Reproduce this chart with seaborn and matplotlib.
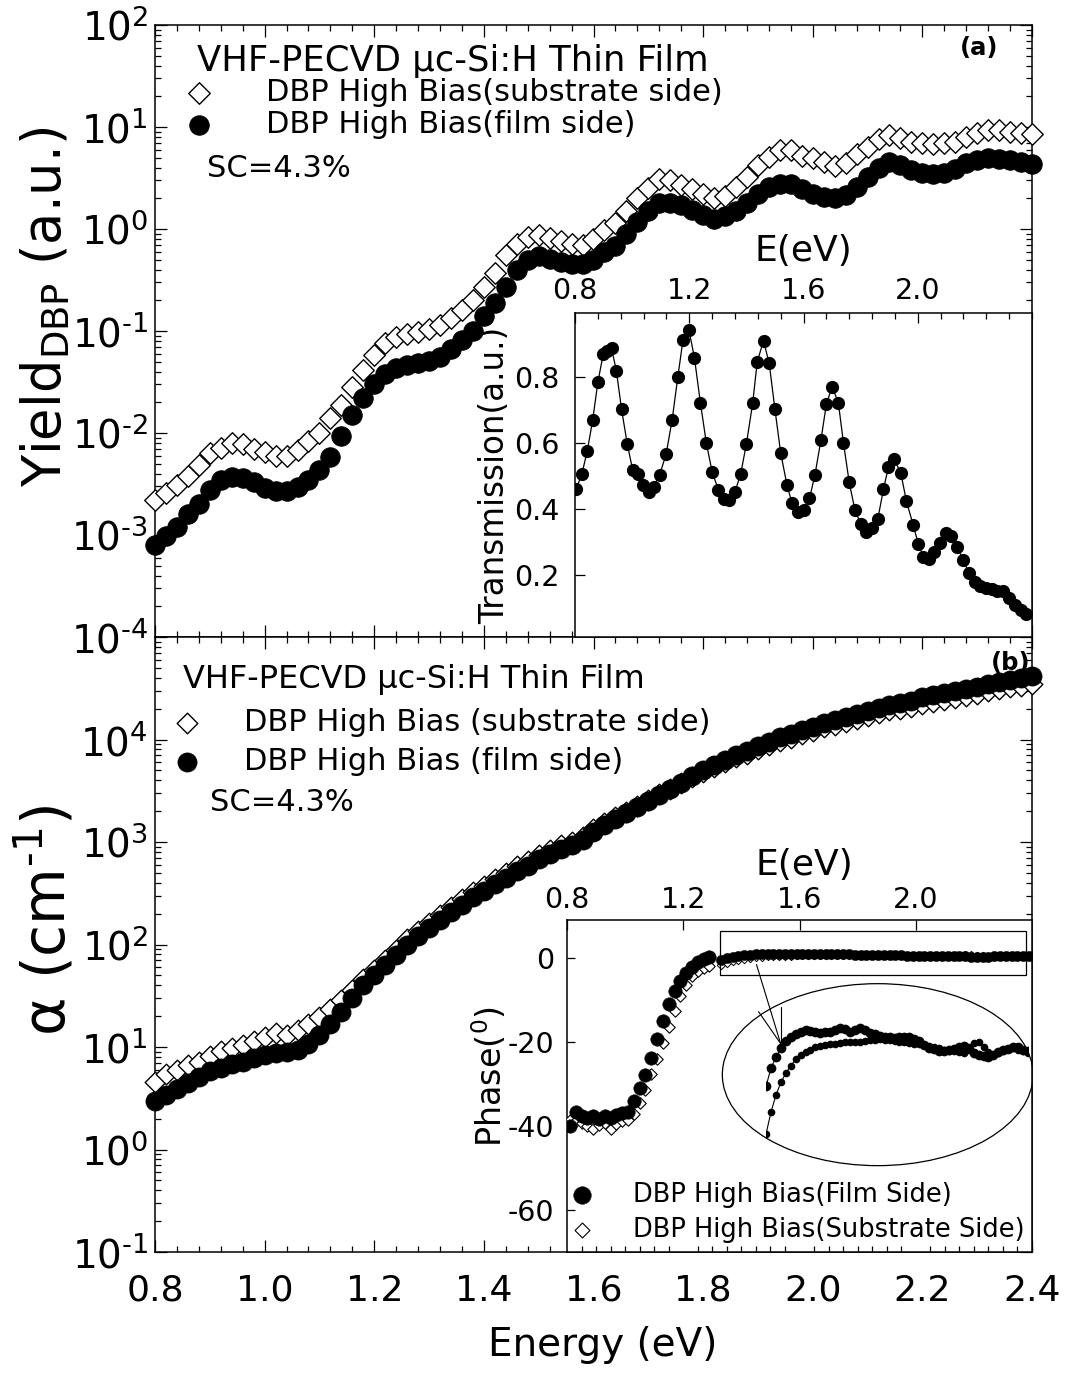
import numpy as np
import matplotlib
matplotlib.use("Agg")
import matplotlib.pyplot as plt
import matplotlib.ticker as mticker
from matplotlib.patches import Ellipse, Rectangle
import seaborn as sns

# energy grid of the two main panels (eV)
energy = np.linspace(0.80, 2.40, 81)

# (a) DBP yield (a.u.)
yield_substrate = [2.2e-3, 2.6e-3, 3.1e-3, 3.8e-3, 4.9e-3, 6.3e-3, 7.2e-3, 7.9e-3, 7.8e-3, 6.9e-3,
                   6.5e-3, 6.0e-3, 6.0e-3, 6.8e-3, 8.3e-3, 1.0e-2, 1.4e-2, 1.9e-2, 2.8e-2, 4.1e-2,
                   5.8e-2, 7.6e-2, 8.7e-2, 9.3e-2, 9.8e-2, 0.105, 0.115, 0.135, 0.16, 0.20,
                   0.27, 0.37, 0.55, 0.72, 0.83, 0.87, 0.81, 0.76, 0.71, 0.69,
                   0.79, 0.98, 1.15, 1.5, 2.0, 2.5, 3.1, 3.0, 2.7, 2.45,
                   2.2, 2.0, 2.1, 2.6, 3.2, 4.2, 5.1, 6.0, 6.0, 5.2,
                   5.0, 4.5, 4.1, 4.4, 5.4, 6.3, 7.6, 8.3, 7.8, 7.2,
                   6.9, 6.8, 6.9, 7.2, 7.9, 8.7, 9.3, 9.3, 8.9, 8.7,
                   8.5]
yield_film = [8.0e-4, 9.8e-4, 1.2e-3, 1.6e-3, 2.0e-3, 2.75e-3, 3.5e-3, 3.7e-3, 3.6e-3, 3.3e-3,
              2.9e-3, 2.7e-3, 2.7e-3, 2.95e-3, 3.5e-3, 4.3e-3, 5.8e-3, 9.3e-3, 1.5e-2, 2.2e-2,
              3.0e-2, 3.8e-2, 4.3e-2, 4.6e-2, 4.9e-2, 5.1e-2, 5.6e-2, 6.6e-2, 8.1e-2, 0.10,
              0.14, 0.19, 0.27, 0.40, 0.50, 0.54, 0.51, 0.48, 0.45, 0.45,
              0.50, 0.59, 0.68, 0.89, 1.17, 1.5, 1.8, 1.8, 1.7, 1.55,
              1.38, 1.26, 1.35, 1.5, 1.8, 2.2, 2.6, 2.75, 2.75, 2.45,
              2.2, 2.05, 2.0, 2.15, 2.6, 3.2, 4.0, 4.5, 4.2, 3.8,
              3.55, 3.45, 3.55, 3.9, 4.4, 4.8, 5.0, 4.9, 4.7, 4.5,
              4.3]

# (a) inset: transmission
trans_e = [0.804, 0.824, 0.843, 0.862, 0.880, 0.899, 0.913, 0.928, 0.945, 0.963,
           0.983, 1.002, 1.020, 1.039, 1.059, 1.076, 1.096, 1.119, 1.140, 1.160,
           1.178, 1.199, 1.218, 1.239, 1.260, 1.280, 1.302, 1.320, 1.340, 1.360,
           1.380, 1.400, 1.422, 1.438, 1.460, 1.480, 1.500, 1.520, 1.542, 1.560,
           1.579, 1.602, 1.621, 1.640, 1.661, 1.680, 1.700, 1.722, 1.740, 1.760,
           1.780, 1.800, 1.820, 1.840, 1.860, 1.880, 1.897, 1.918, 1.941, 1.960,
           1.984, 2.002, 2.020, 2.040, 2.058, 2.078, 2.098, 2.118, 2.139, 2.159,
           2.179, 2.199, 2.219, 2.239, 2.259, 2.279, 2.300, 2.320, 2.340, 2.360,
           2.380]
trans_t = [0.460, 0.506, 0.576, 0.670, 0.784, 0.870, 0.880, 0.887, 0.818, 0.702,
           0.597, 0.518, 0.506, 0.473, 0.452, 0.468, 0.503, 0.566, 0.670, 0.800,
           0.912, 0.942, 0.859, 0.722, 0.599, 0.513, 0.458, 0.429, 0.427, 0.452,
           0.506, 0.597, 0.720, 0.846, 0.910, 0.841, 0.702, 0.571, 0.473, 0.417,
           0.392, 0.397, 0.432, 0.503, 0.609, 0.717, 0.771, 0.722, 0.600, 0.481,
           0.397, 0.355, 0.331, 0.341, 0.369, 0.460, 0.526, 0.550, 0.508, 0.425,
           0.351, 0.294, 0.255, 0.247, 0.271, 0.298, 0.326, 0.318, 0.284, 0.245,
           0.207, 0.180, 0.167, 0.160, 0.157, 0.152, 0.152, 0.129, 0.109, 0.094,
           0.081]

# (b) absorption coefficient (cm^-1)
alpha_substrate = [4.6, 5.4, 6.0, 6.6, 7.2, 8.1, 9.1, 9.8, 10.5, 11.5,
                   12.6, 13.8, 13.2, 14.5, 16.6, 19.5, 23.4, 29, 36, 46,
                   56, 71, 89, 112, 135, 162, 195, 234, 275, 323,
                   371, 436, 501, 580, 650, 740, 830, 925, 1010, 1130,
                   1340, 1530, 1740, 1980, 2260, 2570, 2910, 3310, 3760, 4270,
                   4850, 5400, 6000, 6700, 7300, 8100, 8850, 9700, 10300, 11200,
                   12000, 13100, 13900, 14800, 15800, 16900, 18000, 19200, 20000, 20900,
                   22300, 23200, 24300, 25300, 26400, 27600, 29500, 30800, 32200, 33600,
                   35000]
alpha_film = [3.0, 3.4, 3.9, 4.5, 5.1, 5.8, 6.3, 6.9, 7.2, 7.8,
              8.3, 8.7, 8.9, 9.3, 10.7, 13.2, 16.6, 22, 30, 40,
              50, 63, 79, 100, 120, 145, 174, 209, 245, 288,
              331, 389, 447, 525, 589, 676, 759, 851, 933, 1050,
              1260, 1450, 1660, 1900, 2190, 2510, 2880, 3310, 3800, 4370,
              5010, 5620, 6310, 7080, 7760, 8710, 9550, 10500, 11200, 12300,
              13200, 14500, 15500, 16600, 17800, 19100, 20400, 21900, 22900, 24000,
              25700, 26900, 28200, 29500, 30900, 32400, 34700, 36300, 38000, 39800,
              41700]

# (b) inset: phase (degrees), coarse part and dense part
phase_e_coarse = np.linspace(0.81, 1.29, 25)
phase_film_coarse = [-40.0, -36.8, -37.6, -38.0, -37.6, -38.4, -37.6, -38.2, -37.4, -37.0,
                     -36.6, -34.0, -31.0, -27.8, -23.8, -19.4, -15.0, -11.0, -8.0, -5.6,
                     -3.6, -2.2, -1.0, -0.3, 0.2]
phase_sub_coarse = [-38.6, -38.8, -39.2, -40.0, -40.8, -39.8, -39.2, -40.8, -39.6, -38.8,
                    -38.6, -37.2, -34.6, -31.4, -27.6, -24.0, -20.2, -16.4, -12.6, -9.0,
                    -6.4, -4.4, -3.2, -2.5, -2.0]
phase_e_fine = np.linspace(1.33, 2.39, 54)
phase_film_fine = [-0.50, -0.04, 0.23, 0.46, 0.64, 0.74, 0.81, 0.87, 0.91, 0.89,
                   0.86, 0.85, 0.86, 0.87, 0.92, 0.97, 0.95, 0.87, 0.93, 0.98,
                   0.92, 0.85, 0.82, 0.78, 0.75, 0.74, 0.73, 0.74, 0.75, 0.74,
                   0.70, 0.64, 0.54, 0.46, 0.43, 0.40, 0.39, 0.41, 0.45, 0.49,
                   0.53, 0.44, 0.33, 0.29, 0.26, 0.23, 0.28, 0.36, 0.41, 0.45,
                   0.49, 0.48, 0.42, 0.38]
phase_sub_fine = [-1.70, -1.15, -0.72, -0.40, -0.17, 0.02, 0.18, 0.28, 0.36, 0.42,
                  0.48, 0.51, 0.54, 0.57, 0.58, 0.60, 0.61, 0.62, 0.63, 0.63,
                  0.64, 0.66, 0.68, 0.69, 0.68, 0.66, 0.64, 0.63, 0.61, 0.59,
                  0.57, 0.56, 0.54, 0.53, 0.50, 0.46, 0.42, 0.40, 0.38, 0.36,
                  0.35, 0.50, 0.60, 0.62, 0.48, 0.36, 0.30, 0.33, 0.38, 0.43,
                  0.46, 0.42, 0.38, 0.35]

sns.set_theme(style="ticks", rc={"axes.edgecolor": "black", "xtick.color": "black",
                                 "ytick.color": "black", "text.color": "black",
                                 "axes.labelcolor": "black", "axes.linewidth": 1.1})
plt.rcParams["font.family"] = ["DejaVu Sans"]
plt.rcParams["mathtext.fontset"] = "dejavusans"
plt.rcParams["axes.unicode_minus"] = False
HY = "\u2010"  # plain hyphen inside mathtext

W, H = 1077, 1382
fig = plt.figure(figsize=(W / 100, H / 100), dpi=100)


def box(left, top, right, bottom):
    # axes placed by pixel edges of the reference picture
    return fig.add_axes([left / W, 1 - bottom / H, (right - left) / W, (bottom - top) / H])


def ftext(x, y, s, **kw):
    fig.text(x / W, 1 - y / H, s, **kw)


def decade(v, pos):
    e = str(int(round(np.log10(v)))).replace("-", HY)
    return r"$\mathdefault{10^{%s}}$" % e


def main_style(ax):
    ax.set_xlim(0.8, 2.4)
    ax.set_yscale("log")
    ax.xaxis.set_major_locator(mticker.MultipleLocator(0.2))
    ax.xaxis.set_minor_locator(mticker.MultipleLocator(0.04))
    ax.xaxis.set_major_formatter(mticker.FormatStrFormatter("%.1f"))
    ax.yaxis.set_major_locator(mticker.LogLocator(base=10, numticks=20))
    ax.yaxis.set_minor_locator(mticker.LogLocator(base=10, subs=np.arange(2, 10), numticks=20))
    ax.yaxis.set_minor_formatter(mticker.NullFormatter())
    ax.tick_params(which="both", direction="in", top=True, right=True, width=0.9)
    ax.tick_params(which="major", length=8.5)
    ax.tick_params(which="minor", length=4.3)
    ax.tick_params(axis="x", pad=15.5, labelsize=26)
    ax.tick_params(axis="y", pad=5, labelsize=28)


ax_top = box(155, 25, 1032, 637)
ax_bot = box(155, 637, 1032, 1252)
main_style(ax_top)
main_style(ax_bot)

# ---- panel (a)
ax_top.set_ylim(1e-4, 1e2)
sns.scatterplot(x=energy, y=yield_substrate, ax=ax_top, marker="D", s=120, color="white",
                edgecolor="black", linewidth=1.0, zorder=3, clip_on=False)
sns.scatterplot(x=energy, y=yield_film, ax=ax_top, marker="o", s=200, color="black",
                edgecolor="black", linewidth=0.5, zorder=4, clip_on=False)
ax_top.yaxis.set_major_formatter(mticker.FuncFormatter(decade))
ax_top.tick_params(labelbottom=False)
ax_top.set_ylabel(r"Yield$_{\mathrm{DBP}}$ (a.u.)", fontsize=38)
ax_top.yaxis.set_label_coords(-0.094, 0.54)
h_sub, h_film = ax_top.collections[0], ax_top.collections[1]
ax_top.legend([h_sub, h_film], ["DBP High Bias(substrate side)", "DBP High Bias(film side)"],
              loc="upper left", bbox_to_anchor=(184 / W, 1 - 78 / H), bbox_transform=fig.transFigure,
              frameon=False, fontsize=22, handlelength=1.0, handletextpad=1.7,
              labelspacing=0.1, borderpad=0, borderaxespad=0)
ftext(197, 71, "VHF-PECVD μc-Si:H Thin Film", fontsize=25.5, va="baseline")
ftext(207, 177, "SC=4.3%", fontsize=22, va="baseline")
ftext(979, 48, "(a)", fontsize=17.5, fontweight="bold", ha="center", va="center")

# ---- panel (b)
ax_bot.set_ylim(1e-1, 1e5)
sns.scatterplot(x=energy, y=alpha_substrate, ax=ax_bot, marker="D", s=110, color="white",
                edgecolor="black", linewidth=1.0, zorder=3, clip_on=False)
sns.scatterplot(x=energy, y=alpha_film, ax=ax_bot, marker="o", s=190, color="black",
                edgecolor="black", linewidth=0.5, zorder=4, clip_on=False)
ax_bot.yaxis.set_major_formatter(mticker.FuncFormatter(lambda v, p: decade(v, p) if v < 5e4 else ""))
ax_bot.tick_params(labeltop=False)
ax_bot.set_ylabel(r"α (cm$^{" + HY + "1}$)", fontsize=42)
ax_bot.yaxis.set_label_coords(-0.088, 0.54)
ax_bot.set_xlabel("Energy (eV)", fontsize=28)
ax_bot.xaxis.set_label_coords(0.51, -0.12)
b_sub, b_film = ax_bot.collections[0], ax_bot.collections[1]
ax_bot.legend([b_sub, b_film], ["DBP High Bias (substrate side)", "DBP High Bias (film side)"],
              loc="upper left", bbox_to_anchor=(172 / W, 1 - 708 / H), bbox_transform=fig.transFigure,
              frameon=False, fontsize=22, handlelength=1.0, handletextpad=1.35,
              labelspacing=0.33, borderpad=0, borderaxespad=0)
ftext(183, 688, "VHF-PECVD μc-Si:H Thin Film", fontsize=23, va="baseline")
ftext(210, 811, "SC=4.3%", fontsize=22, va="baseline")
ftext(1011, 663, "(b)", fontsize=17.5, fontweight="bold", ha="center", va="center")

# ---- inset of (a): transmission
ax_a = box(575, 313, 1032, 637)
ax_a.set_facecolor("white")
sns.lineplot(x=trans_e, y=trans_t, ax=ax_a, color="black", linewidth=0.9, marker="o",
             markersize=9.5, markeredgewidth=0, errorbar=None, sort=False)
ax_a.set_xlim(0.8, 2.4)
ax_a.set_ylim(0.012, 0.994)
ax_a.set_xticks([0.8, 1.2, 1.6, 2.0])
ax_a.xaxis.set_minor_locator(mticker.MultipleLocator(0.08))
ax_a.set_yticks([0.2, 0.4, 0.6, 0.8])
ax_a.xaxis.set_major_formatter(mticker.FormatStrFormatter("%.1f"))
ax_a.tick_params(which="both", direction="in", top=True, bottom=False, right=False,
                 labeltop=True, labelbottom=False, width=0.9, labelsize=20.5)
ax_a.tick_params(which="major", length=7)
ax_a.tick_params(which="minor", length=4)
ax_a.tick_params(axis="x", pad=6)
ax_a.tick_params(axis="y", pad=11)
ax_a.xaxis.set_label_position("top")
ax_a.set_xlabel("E(eV)", fontsize=26)
ax_a.xaxis.set_label_coords(0.5, 1.16)
ax_a.set_ylabel("Transmission(a.u.)", fontsize=23.5)
ax_a.yaxis.set_label_coords(-0.140, 0.5)

# ---- inset of (b): phase
ax_b = box(567, 920, 1032, 1252)
ax_b.set_facecolor("white")
sns.scatterplot(x=phase_e_coarse, y=phase_sub_coarse, ax=ax_b, marker="D", s=34, color="white",
                edgecolor="black", linewidth=0.8, zorder=3)
sns.scatterplot(x=phase_e_fine, y=phase_sub_fine, ax=ax_b, marker="D", s=18, color="white",
                edgecolor="black", linewidth=0.7, zorder=3)
sns.scatterplot(x=phase_e_coarse, y=phase_film_coarse, ax=ax_b, marker="o", s=95, color="black",
                edgecolor="black", linewidth=0.3, zorder=4)
sns.scatterplot(x=phase_e_fine, y=phase_film_fine, ax=ax_b, marker="o", s=55, color="black",
                edgecolor="black", linewidth=0.3, zorder=4)
ax_b.set_xlim(0.8, 2.4)
ax_b.set_ylim(-70, 9)
ax_b.set_xticks([0.8, 1.2, 1.6, 2.0])
ax_b.xaxis.set_major_formatter(mticker.FormatStrFormatter("%.1f"))
ax_b.xaxis.set_minor_locator(mticker.MultipleLocator(0.05))
ax_b.set_yticks([0, -20, -40, -60])
ax_b.tick_params(which="both", direction="in", right=False, width=0.9, labelsize=20.5)
ax_b.tick_params(axis="x", which="major", top=True, bottom=False, labeltop=True,
                 labelbottom=False, length=7, pad=4)
ax_b.tick_params(axis="x", which="minor", top=False, bottom=True, length=4)
ax_b.tick_params(axis="y", length=6, pad=9)
ax_b.xaxis.set_label_position("top")
ax_b.set_xlabel("E(eV)", fontsize=26)
ax_b.xaxis.set_label_coords(0.51, 1.135)
ax_b.set_ylabel(r"Phase($^0$)", fontsize=24)
ax_b.yaxis.set_label_coords(-0.125, 0.53)
p_sub, p_film = ax_b.collections[0], ax_b.collections[2]
ax_b.legend([p_film, p_sub], ["DBP High Bias(Film Side)", "DBP High Bias(Substrate Side)"],
            loc="upper left", bbox_to_anchor=(569 / W, 1 - 1182 / H), bbox_transform=fig.transFigure,
            frameon=False, fontsize=18.5, handlelength=1.0, handletextpad=1.5,
            labelspacing=0.35, borderpad=0, borderaxespad=0, markerscale=1.3)

# zoom box, magnifying ellipse and pointer lines
ax_b.add_patch(Rectangle((1.327, -4.0), 1.051, 10.3, fill=False, lw=0.9, ec="black", zorder=5))
ax_b.add_patch(Ellipse((1.869, -27.8), 1.069, 43.3, fill=False, lw=0.9, ec="black", zorder=5))
for (x0, y0) in [(1.452, -1.6), (1.459, -12.8), (1.535, -11.8)]:
    ax_b.plot([x0, 1.535], [y0, -20.4], color="black", lw=0.8, zorder=6)

ax_mag = box(766, 995, 1028, 1166)
ax_mag.set_axis_off()
ax_mag.patch.set_alpha(0)
sns.lineplot(x=phase_e_fine, y=phase_film_fine, ax=ax_mag, color="black", linewidth=0.8,
             marker="o", markersize=7, markeredgewidth=0, errorbar=None)
sns.lineplot(x=phase_e_fine, y=phase_sub_fine, ax=ax_mag, color="black", linewidth=0.8,
             marker="o", markersize=5.5, markeredgewidth=0, errorbar=None)
ax_mag.set_xlim(1.33, 2.39)
ax_mag.set_ylim(-2.5, 1.8)
if ax_mag.get_legend() is not None:
    ax_mag.get_legend().remove()

fig.savefig("out.png", dpi=100)
